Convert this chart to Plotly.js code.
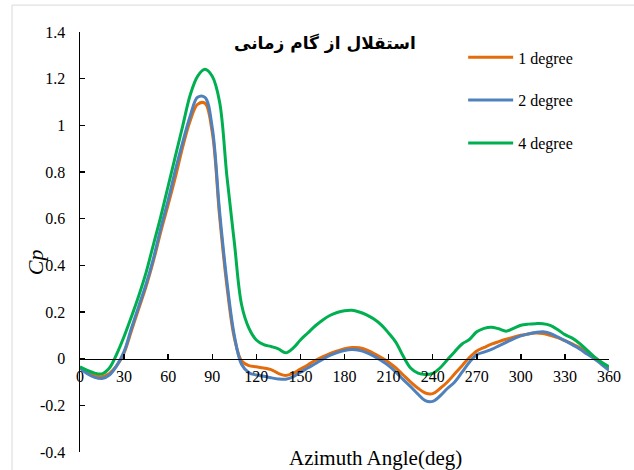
<!DOCTYPE html>
<html>
<head>
<meta charset="utf-8">
<script src="https://cdn.plot.ly/plotly-3.0.1.min.js"></script>
<style>html,body{margin:0;padding:0;background:#fff;}#chart{width:634px;height:470px;}</style>
</head>
<body>
<div id="chart"></div>
<script>
const angles = [0,5,10,15,20,25,30,35,40,45,50,55,60,65,70,75,80,85,90,95,100,105,110,115,120,125,130,135,140,145,150,155,160,165,170,175,180,185,190,195,200,205,210,215,220,225,230,235,240,245,250,255,260,265,270,275,280,285,290,295,300,305,310,315,320,325,330,335,340,345,350,355,360];

const cp1deg = [-0.04,-0.06,-0.073,-0.077,-0.063,-0.03,0.025,0.12,0.215,0.31,0.42,0.545,0.66,0.78,0.91,1.02,1.09,1.095,0.97,0.61,0.31,0.09,-0.01,-0.03,-0.035,-0.04,-0.047,-0.063,-0.072,-0.063,-0.045,-0.027,-0.008,0.008,0.022,0.033,0.043,0.048,0.047,0.038,0.022,0.005,-0.015,-0.04,-0.07,-0.1,-0.127,-0.147,-0.15,-0.128,-0.1,-0.065,-0.03,0.005,0.033,0.048,0.062,0.073,0.083,0.092,0.1,0.106,0.11,0.108,0.1,0.09,0.077,0.063,0.048,0.028,0.006,-0.02,-0.045];

const cp2deg = [-0.04,-0.065,-0.08,-0.085,-0.07,-0.03,0.03,0.13,0.225,0.32,0.43,0.56,0.68,0.81,0.93,1.04,1.12,1.12,0.99,0.63,0.33,0.1,-0.025,-0.06,-0.07,-0.075,-0.082,-0.087,-0.088,-0.078,-0.058,-0.04,-0.022,-0.003,0.014,0.026,0.035,0.039,0.036,0.026,0.011,-0.008,-0.03,-0.058,-0.09,-0.12,-0.152,-0.18,-0.183,-0.16,-0.128,-0.1,-0.058,-0.015,0.017,0.028,0.04,0.055,0.07,0.085,0.098,0.106,0.112,0.115,0.108,0.093,0.077,0.06,0.042,0.02,0.0,-0.025,-0.05];

const cp4deg = [-0.035,-0.05,-0.062,-0.065,-0.04,0.02,0.095,0.18,0.27,0.37,0.49,0.61,0.74,0.87,1.0,1.13,1.21,1.24,1.21,1.1,0.78,0.5,0.23,0.13,0.08,0.06,0.052,0.042,0.025,0.045,0.08,0.11,0.14,0.165,0.185,0.198,0.205,0.207,0.2,0.188,0.17,0.145,0.11,0.07,0.01,-0.04,-0.062,-0.068,-0.063,-0.04,-0.005,0.03,0.063,0.082,0.115,0.13,0.135,0.128,0.118,0.13,0.143,0.148,0.15,0.15,0.143,0.125,0.103,0.088,0.065,0.037,0.008,-0.015,-0.035];

const seriesNames = ['1 degree','2 degree','4 degree'];
const seriesColors = ['#E46C0A','#4F81BD','#00B050'];

const xTickVals = [0,30,60,90,120,150,180,210,240,270,300,330,360];
const xTickText = ['0','30','60','90','120','150','180','210','240','270','300','330','360'];
const yTickVals = [-0.4,-0.2,0,0.2,0.4,0.6,0.8,1,1.2,1.4];
const yTickText = ['-0.4','-0.2','0','0.2','0.4','0.6','0.8','1','1.2','1.4'];

const titleText = 'استقلال از گام زمانی';
const xTitle = 'Azimuth Angle(deg)';
const yTitle = '<i>Cp</i>';

const series = [cp1deg, cp2deg, cp4deg];
const traces = series.map((ys, i) => ({
  x: angles, y: ys, type: 'scatter', mode: 'lines',
  name: seriesNames[i], legendgroup: 'g' + i,
  line: {color: seriesColors[i], width: 3, shape: 'spline', smoothing: 1}
}));

const serif = '"Liberation Serif", serif';
const layout = {
  width: 634, height: 470,
  margin: {l: 80, r: 25, t: 32, b: 18},
  paper_bgcolor: '#fff', plot_bgcolor: '#fff',
  font: {family: serif, color: '#000'},
  showlegend: true,
  legend: {x: 0.7243, y: 0.98, xanchor: 'left', yanchor: 'top', font: {family: serif, size: 16, color: '#000'},
           tracegroupgap: 19, itemwidth: 45, bgcolor: 'rgba(0,0,0,0)'},
  xaxis: {range: [0, 360], anchor: 'free', position: 0.4/1.8, showline: true, linecolor: '#000', linewidth: 1.5,
          ticks: 'inside', ticklen: 5, tickcolor: '#000', tickwidth: 1.5,
          tickvals: xTickVals, ticktext: xTickText, showgrid: false, zeroline: false,
          ticklabelstandoff: 3,
          tickfont: {family: serif, size: 16, color: '#000'}},
  yaxis: {range: [-0.4, 1.4], showline: true, linecolor: '#000', linewidth: 1.5,
          ticks: 'inside', ticklen: 5, tickcolor: '#000', tickwidth: 1.5,
          tickvals: yTickVals, ticktext: yTickText, showgrid: false, zeroline: false,
          ticklabelstandoff: 10,
          tickfont: {family: serif, size: 16, color: '#000'}},
  annotations: [
    {text: '<b>' + titleText + '</b>', xref: 'paper', yref: 'paper', x: 0.463, y: 0.974,
     xanchor: 'center', yanchor: 'middle',
     showarrow: false, font: {family: '"DejaVu Sans", sans-serif', size: 17, color: '#000'}},
    {text: xTitle, xref: 'paper', yref: 'paper', x: 0.558, y: -0.014, xanchor: 'center', yanchor: 'middle',
     showarrow: false, font: {family: serif, size: 21, color: '#000'}},
    {text: yTitle, xref: 'paper', yref: 'paper', x: -0.085, y: 0.452, xanchor: 'center', yanchor: 'middle',
     showarrow: false, textangle: -90, font: {family: serif, size: 22, color: '#000'}}
  ],
  shapes: [
    {type: 'rect', xref: 'paper', yref: 'paper', x0: -0.1285, x1: 1.2, y0: -0.3, y1: 1.064,
     line: {color: '#d9d9d9', width: 1}, fillcolor: 'rgba(0,0,0,0)', layer: 'below'}
  ]
};

Plotly.newPlot('chart', traces, layout, {displayModeBar: false, staticPlot: true});
</script>
</body>
</html>
